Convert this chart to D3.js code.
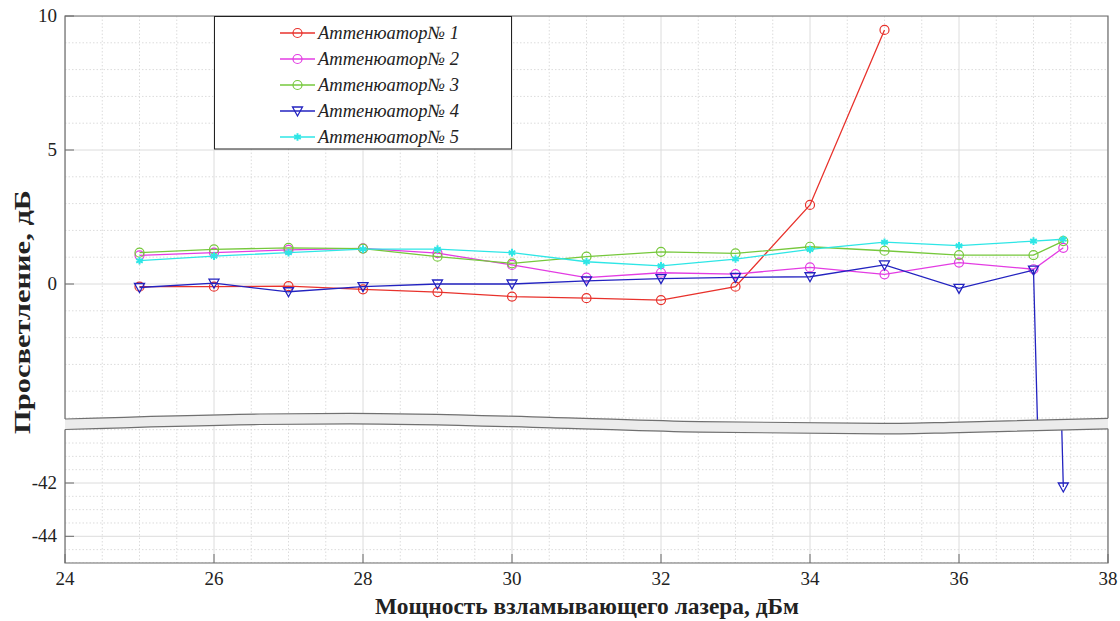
<!DOCTYPE html>
<html>
<head>
<meta charset="utf-8">
<script src="https://cdn.jsdelivr.net/npm/d3@7"></script>
<style>
  body { margin: 0; background: #fff; }
</style>
</head>
<body>
<svg width="1120" height="621" font-family="Liberation Serif"></svg>
<script>
// power of the breaking laser, dBm
const xs = [25, 26, 27, 28, 29, 30, 31, 32, 33, 34, 35, 36, 37, 37.4];

// transmission, dB (attenuator 1 only measured up to 35 dBm)
const att1 = [-0.1, -0.1, -0.08, -0.2, -0.3, -0.47, -0.53, -0.6, -0.1, 2.95, 9.48];
const att2 = [1.07, 1.17, 1.27, 1.33, 1.15, 0.71, 0.24, 0.42, 0.37, 0.62, 0.36, 0.8, 0.55, 1.35];
const att3 = [1.17, 1.29, 1.35, 1.32, 1.02, 0.77, 1.02, 1.2, 1.14, 1.39, 1.24, 1.08, 1.08, 1.6];
const att4 = [-0.13, 0.03, -0.29, -0.1, 0.0, 0.0, 0.12, 0.2, 0.25, 0.27, 0.71, -0.16, 0.52, -42.15];
const att5 = [0.87, 1.04, 1.17, 1.3, 1.3, 1.17, 0.83, 0.68, 0.93, 1.29, 1.56, 1.43, 1.6, 1.67];

const seriesNames = ['Аттенюатор№ 1', 'Аттенюатор№ 2', 'Аттенюатор№ 3', 'Аттенюатор№ 4', 'Аттенюатор№ 5'];
const xTicks = [24, 26, 28, 30, 32, 34, 36, 38];
const yTicksTop = [0, 5, 10];
const yTicksBottom = [-44, -42];

const colors = ['#e8322c', '#e33ce3', '#76c83c', '#2323c0', '#2ee6e6'];
const markers = ['circle', 'circle', 'circle', 'triangle', 'asterisk'];

const pLeft = 65, pRight = 1108, pTop = 16, pBottom = 563;

const svg = d3.select('svg');

const x = d3.scaleLinear().domain([24, 38]).range([pLeft, pRight]);
// upper panel and lower panel share the same px per dB
const yTop = d3.scaleLinear().domain([0, 10]).range([284, pTop]);
const yBot = d3.scaleLinear().domain([-42, -44]).range([483, 536.3]);

// wavy break band (pixel layout)
const bandX = [65, 260, 350, 550, 700, 900, 950, 1108];
const bandTop = [419, 414, 413.3, 417.3, 421.7, 423.3, 422.3, 418.3];
const bandH = 10.5;
const bandPts = bandX.map((bx, i) => [bx, bandTop[i]]);

const defs = svg.append('defs');
defs.append('clipPath').attr('id', 'clipTop')
    .append('path')
    .attr('d', d3.area().curve(d3.curveMonotoneX).x(d => d[0]).y0(pTop).y1(d => d[1])(bandPts));
defs.append('clipPath').attr('id', 'clipBot')
    .append('path')
    .attr('d', d3.area().curve(d3.curveMonotoneX).x(d => d[0]).y0(d => d[1] + bandH).y1(pBottom)(bandPts));

function panel(clipId, yScale, yMin, yMax, yStep) {
    const g = svg.append('g').attr('clip-path', `url(#${clipId})`);

    // vertical grid, every 0.5 dBm
    const vx = d3.range(24, 38.01, 0.5);
    g.selectAll('.vg').data(vx).join('line')
        .attr('x1', d => x(d)).attr('x2', d => x(d))
        .attr('y1', pTop).attr('y2', pBottom)
        .attr('stroke', '#dcdcdc')
        .attr('stroke-width', 1)
        .attr('stroke-dasharray', d => d % 2 === 0 ? null : '1.5,2');

    // horizontal grid
    const hy = d3.range(yMin, yMax + 0.001, yStep);
    g.selectAll('.hg').data(hy).join('line')
        .attr('x1', pLeft).attr('x2', pRight)
        .attr('y1', d => yScale(d)).attr('y2', d => yScale(d))
        .attr('stroke', '#dcdcdc')
        .attr('stroke-width', 1)
        .attr('stroke-dasharray', d => (yTicksTop.includes(d) || yTicksBottom.includes(d)) ? null : '1.5,2');

    const line = d3.line()
        .x(d => x(d.x))
        .y(d => yScale(d.y));

    [att1, att2, att3, att4, att5].forEach((vals, i) => {
        const data = vals.map((v, j) => ({x: xs[j], y: v}));
        g.append('path')
            .datum(data)
            .attr('fill', 'none')
            .attr('stroke', colors[i])
            .attr('stroke-width', 1.3)
            .attr('d', line);
        drawMarkers(g, data.map(d => [x(d.x), yScale(d.y)]), i);
    });
    return g;
}

function drawMarkers(g, pts, i) {
    const c = colors[i];
    if (markers[i] === 'circle') {
        g.selectAll(null).data(pts).join('circle')
            .attr('cx', d => d[0]).attr('cy', d => d[1]).attr('r', 4.5)
            .attr('fill', 'none').attr('stroke', c).attr('stroke-width', 1.2);
    } else if (markers[i] === 'triangle') {
        g.selectAll(null).data(pts).join('path')
            .attr('d', d => `M${d[0] - 5},${d[1] - 4}L${d[0] + 5},${d[1] - 4}L${d[0]},${d[1] + 5}Z`)
            .attr('fill', 'none').attr('stroke', c).attr('stroke-width', 1.3);
    } else {
        g.selectAll(null).data(pts).join('path')
            .attr('transform', d => `translate(${d[0]},${d[1]})`)
            .attr('d', d3.symbol(d3.symbolAsterisk, 40)())
            .attr('fill', 'none').attr('stroke', c).attr('stroke-width', 2);
    }
}

panel('clipTop', yTop, -6, 10, 1);
panel('clipBot', yBot, -45, -40, 0.5);

// frames
const frame = '#6a6a6a';
const topEnd = bandPts[0][1], topEndR = bandPts[bandPts.length - 1][1];
svg.append('path')
    .attr('d', `M${pLeft},${topEnd}V${pTop}H${pRight}V${topEndR}`)
    .attr('fill', 'none').attr('stroke', frame).attr('stroke-width', 1.2);
svg.append('path')
    .attr('d', `M${pLeft},${topEnd + bandH}V${pBottom}H${pRight}V${topEndR + bandH}`)
    .attr('fill', 'none').attr('stroke', frame).attr('stroke-width', 1.2);

// break band
svg.append('path')
    .attr('d', d3.area().curve(d3.curveMonotoneX).x(d => d[0]).y0(d => d[1]).y1(d => d[1] + bandH)(bandPts))
    .attr('fill', '#ececec');
const edge = d3.line().curve(d3.curveMonotoneX).x(d => d[0]);
svg.append('path').attr('d', edge.y(d => d[1])(bandPts))
    .attr('fill', 'none').attr('stroke', '#707070').attr('stroke-width', 1.2);
svg.append('path').attr('d', edge.y(d => d[1] + bandH)(bandPts))
    .attr('fill', 'none').attr('stroke', '#707070').attr('stroke-width', 1.2);

// ticks
const tickLen = 9;
svg.selectAll('.xt').data(xTicks).join('line')
    .attr('x1', d => x(d)).attr('x2', d => x(d))
    .attr('y1', pBottom).attr('y2', pBottom - tickLen)
    .attr('stroke', frame).attr('stroke-width', 1);
svg.selectAll('.ytt').data(yTicksTop).join('line')
    .attr('x1', pLeft).attr('x2', pLeft + tickLen)
    .attr('y1', d => yTop(d)).attr('y2', d => yTop(d))
    .attr('stroke', frame).attr('stroke-width', 1);
svg.selectAll('.ytb').data(yTicksBottom).join('line')
    .attr('x1', pLeft).attr('x2', pLeft + tickLen)
    .attr('y1', d => yBot(d)).attr('y2', d => yBot(d))
    .attr('stroke', frame).attr('stroke-width', 1);

// tick labels
svg.selectAll('.xl').data(xTicks).join('text')
    .attr('x', d => x(d)).attr('y', 585)
    .attr('text-anchor', 'middle')
    .attr('font-size', 19).attr('fill', '#222')
    .text(d => d);
svg.selectAll('.ylt').data(yTicksTop).join('text')
    .attr('x', 57).attr('y', d => yTop(d) + 6)
    .attr('text-anchor', 'end')
    .attr('font-size', 19).attr('fill', '#222')
    .text(d => d);
svg.selectAll('.ylb').data(yTicksBottom).join('text')
    .attr('x', 57).attr('y', d => yBot(d) + 6)
    .attr('text-anchor', 'end')
    .attr('font-size', 19).attr('fill', '#222')
    .text(d => d);

// axis titles
svg.append('text')
    .attr('x', 587).attr('y', 614)
    .attr('text-anchor', 'middle')
    .attr('font-size', 23).attr('font-weight', 'bold').attr('fill', '#222')
    .attr('textLength', 424).attr('lengthAdjust', 'spacingAndGlyphs')
    .text('Мощность взламывающего лазера, дБм');
svg.append('text')
    .attr('transform', 'translate(30,312) rotate(-90)')
    .attr('text-anchor', 'middle')
    .attr('font-size', 24).attr('font-weight', 'bold').attr('fill', '#222')
    .attr('textLength', 244).attr('lengthAdjust', 'spacingAndGlyphs')
    .text('Просветление, дБ');

// legend
const lg = svg.append('g');
lg.append('rect')
    .attr('x', 214.5).attr('y', 16.5).attr('width', 297).attr('height', 132.5)
    .attr('fill', '#fff').attr('stroke', '#222').attr('stroke-width', 1);
seriesNames.forEach((name, i) => {
    const ly = 33 + i * 26;
    lg.append('line')
        .attr('x1', 280).attr('x2', 315).attr('y1', ly).attr('y2', ly)
        .attr('stroke', colors[i]).attr('stroke-width', 1.3);
    drawMarkers(lg, [[297.5, ly]], i);
    lg.append('text')
        .attr('x', 318).attr('y', ly + 6)
        .attr('font-size', 18.5).attr('font-style', 'italic').attr('fill', '#222')
        .text(name);
});
</script>
</body>
</html>
